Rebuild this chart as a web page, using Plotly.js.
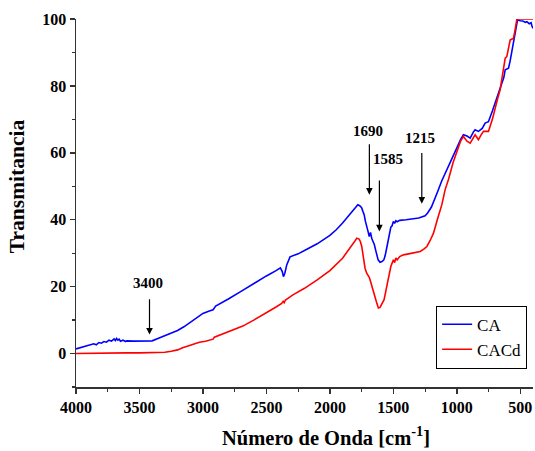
<!DOCTYPE html>
<html>
<head>
<meta charset="utf-8">
<script src="https://cdn.plot.ly/plotly-3.0.1.min.js"></script>
<style>html,body{margin:0;padding:0;background:#fff}#chart{width:535px;height:451px}</style>
</head>
<body>
<div id="chart"></div>
<script>
const wnCA = [4000,3950,3900,3860,3840,3820,3800,3780,3760,3740,3720,3700,3690,3680,3670,3660,3650,3630,3610,3600,3550,3500,3450,3400,3350,3300,3250,3200,3150,3100,3050,3000,2950,2920,2900,2850,2800,2700,2600,2500,2424,2390,2375,2366,2355,2340,2314,2250,2200,2100,2000,1950,1900,1850,1800,1780,1765,1750,1740,1730,1720,1710,1700,1690,1680,1670,1660,1650,1640,1630,1620,1605,1590,1575,1565,1550,1535,1520,1510,1500,1490,1480,1470,1450,1400,1350,1300,1250,1230,1200,1180,1150,1120,1080,1050,1000,970,948,920,895,870,856,830,800,777,751,720,685,660,645,630,619,605,593,580,567,555,541,530,522,500,480,460,448,430,415,409,400];
const tCA = [1.4,1.9,2.4,2.9,2.6,3.3,3.1,3.6,3.4,4.0,3.7,4.4,3.9,4.5,4.0,4.3,3.7,4.0,3.6,3.8,3.7,3.7,3.7,3.8,4.6,5.4,6.0,6.9,8.0,9.3,10.5,12.0,12.7,13.1,14.2,15.2,16.3,18.6,21.0,23.2,24.8,25.6,24.5,23.0,24.0,26.5,28.9,29.8,30.8,32.8,35.3,37.0,39.0,41.3,43.5,44.5,44.2,43.6,42.5,41.5,39.5,37.5,36.6,35.0,36.2,34.4,33.5,32.6,31.0,29.2,28.0,27.3,27.5,28.0,29.2,32.0,34.5,37.8,38.2,39.5,38.9,39.7,39.4,39.8,40.0,40.3,40.5,41.2,42.0,43.8,45.5,48.5,51.5,55.0,57.5,61.5,64.0,65.4,65.0,64.4,66.2,66.9,66.4,67.3,68.9,69.3,72.5,76.3,79.5,80.8,82.5,84.8,85.0,85.3,87.5,90.2,93.5,96.7,99.0,99.7,99.5,99.4,99.0,99.2,98.6,98.9,98.0,97.2];

const wnCACd = [4000,3900,3800,3700,3600,3500,3400,3343,3300,3250,3200,3160,3100,3050,3028,2980,2936,2920,2910,2850,2800,2686,2600,2500,2424,2380,2368,2360,2350,2288,2200,2100,2000,1900,1850,1800,1788,1770,1760,1749,1735,1723,1710,1700,1690,1683,1670,1657,1645,1630,1618,1605,1590,1573,1555,1539,1520,1500,1490,1480,1470,1450,1421,1380,1330,1289,1260,1236,1210,1184,1150,1118,1092,1066,1030,1000,970,948,920,895,870,856,840,830,810,790,770,751,720,698,680,659,640,619,606,595,580,565,554,540,527,500,450,400];
const tCACd = [0.0,0.1,0.2,0.3,0.2,0.2,0.2,0.2,0.4,0.7,1.1,1.7,2.4,3.0,3.4,3.7,4.0,4.3,4.9,5.8,6.6,8.2,10.0,12.1,13.9,15.0,15.6,15.2,16.0,17.6,19.5,22.0,24.8,28.5,31.0,33.8,34.5,34.2,33.5,32.0,28.5,25.5,24.0,23.5,22.8,22.0,20.5,19.0,17.0,15.0,13.6,13.8,14.8,16.1,19.5,23.0,26.0,28.0,27.2,28.6,28.0,29.0,29.5,29.8,30.2,30.5,31.2,32.0,33.8,36.0,40.5,44.5,49.0,52.0,57.0,60.5,63.5,64.9,63.5,62.9,64.5,65.4,64.5,63.9,65.3,66.4,66.4,66.4,70.0,73.8,76.0,78.8,83.0,88.3,88.8,90.5,93.7,94.0,94.2,97.0,100,100,100,100];

const seriesNames = ['CA','CACd'];
const peakLabels = ['3400','1690','1585','1215'];
const peakTip  = [[3421,5.7],[1689,47.5],[1610,36.5],[1276,44.8]];
const peakTail = [[3421,16.7],[1689,63.0],[1610,52.2],[1276,60.4]];
const peakText = [[3430,21.2],[1697,66.6],[1539,58.3],[1289,64.3]];

const FONT = '"Times New Roman", "Liberation Serif", Tinos, "DejaVu Serif", serif';

const traces = [
  {x: wnCA, y: tCA, name: seriesNames[0], type: 'scatter', mode: 'lines', line: {color: '#0000ff', width: 1.6}},
  {x: wnCACd, y: tCACd, name: seriesNames[1], type: 'scatter', mode: 'lines', line: {color: '#ff0000', width: 1.6}}
];

const annotations = [];
peakLabels.forEach((lab, i) => {
  annotations.push({x: peakTip[i][0], y: peakTip[i][1], ax: peakTail[i][0], ay: peakTail[i][1],
    xref: 'x', yref: 'y', axref: 'x', ayref: 'y', text: '', showarrow: true,
    arrowhead: 2, arrowsize: 1.1, arrowwidth: 1.2, arrowcolor: '#000'});
  annotations.push({x: peakText[i][0], y: peakText[i][1], xref: 'x', yref: 'y', text: lab,
    showarrow: false, font: {family: FONT, size: 15, color: '#000', weight: 'bold'}});
});
annotations.push({xref: 'paper', yref: 'paper', x: 0.547, y: -0.175, text: 'Número de Onda [cm<sup>-1</sup>]',
  showarrow: false, font: {family: FONT, size: 20.5, color: '#000', weight: 'bold'}});
annotations.push({xref: 'paper', yref: 'paper', x: -0.158, y: 0.545, text: 'Transmitancia', textangle: -90,
  showarrow: false, font: {family: FONT, size: 21.5, color: '#000', weight: 'bold'}});

const layout = {
  width: 535, height: 451,
  font: {family: FONT},
  margin: {l: 76, r: 2, t: 19, b: 63.5},
  paper_bgcolor: '#fff', plot_bgcolor: '#fff',
  showlegend: true,
  legend: {x: 0.788, y: 0.221, xanchor: 'left', yanchor: 'top', bordercolor: '#000', borderwidth: 1,
    font: {family: FONT, size: 17, color: '#000'}, bgcolor: '#fff', tracegroupgap: 0, itemwidth: 30},
  xaxis: {range: [4000, 400], autorange: false, showgrid: false, zeroline: false,
    showline: true, linecolor: '#333', linewidth: 1.5, ticks: 'outside', ticklen: 5, tickwidth: 1.5, tickcolor: '#333',
    tick0: 500, dtick: 500, tickfont: {family: FONT, size: 16, color: '#000', weight: 'bold'},
    minor: {ticks: 'outside', dtick: 250, tick0: 500, ticklen: 3, tickwidth: 1.2, tickcolor: '#333'}},
  yaxis: {range: [-10, 100], autorange: false, showgrid: false, zeroline: false,
    showline: true, linecolor: '#333', linewidth: 1.5, ticks: 'outside', ticklen: 5, tickwidth: 1.5, tickcolor: '#333',
    tick0: 0, dtick: 20, tickfont: {family: FONT, size: 16, color: '#000', weight: 'bold'},
    minor: {ticks: 'outside', dtick: 10, tick0: 0, ticklen: 3, tickwidth: 1.2, tickcolor: '#333'}},
  annotations: annotations
};

Plotly.newPlot('chart', traces, layout, {staticPlot: true, displayModeBar: false});
</script>
</body>
</html>
